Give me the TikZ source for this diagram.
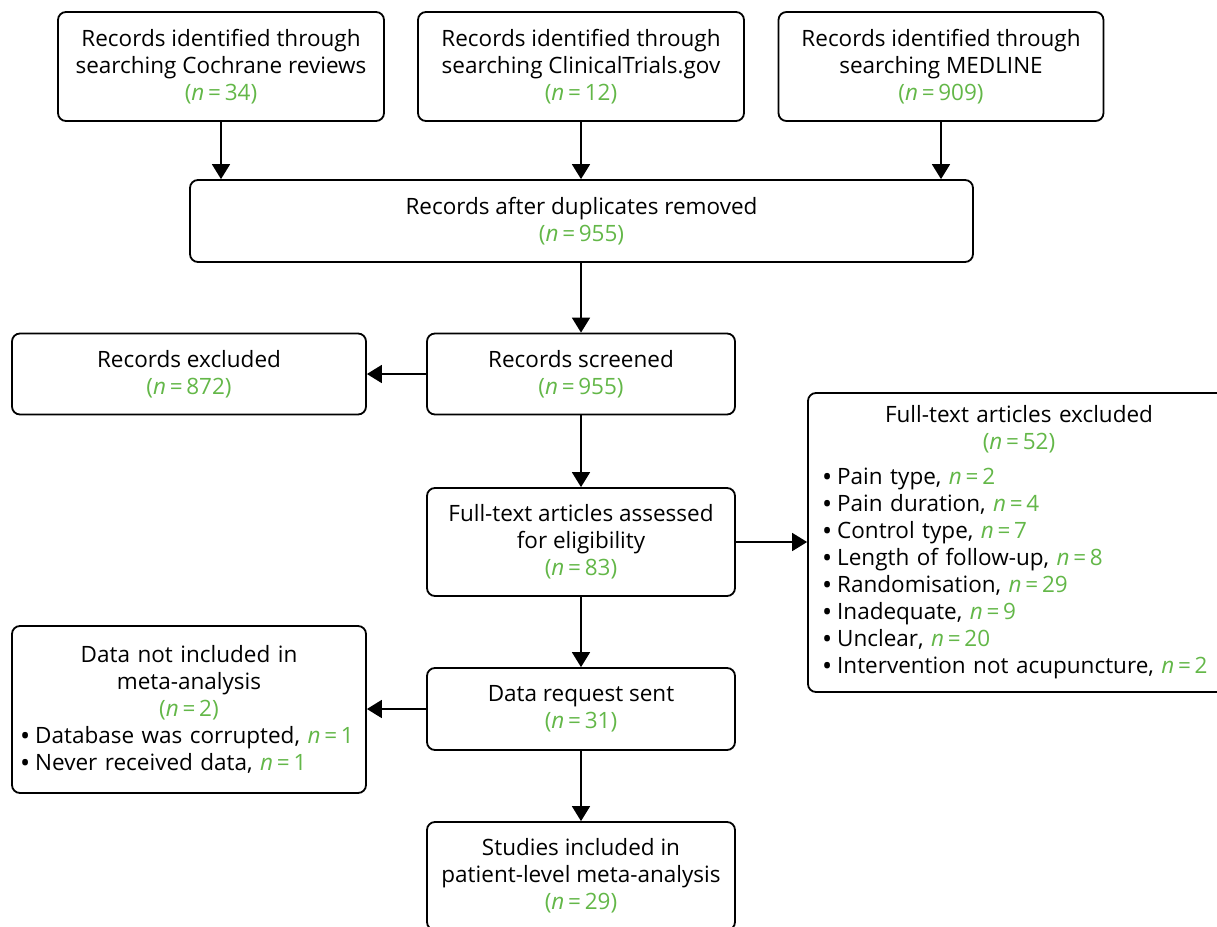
\documentclass[tikz,border=0pt]{standalone}
\usepackage{fontspec}
\setmainfont{Open Sans}
\usetikzlibrary{arrows.meta}
\definecolor{ngreen}{RGB}{99,183,72}
\newcommand{\nval}[1]{\textcolor{ngreen}{(\textit{n}\,=\,#1)}}
\newcommand{\nitem}[1]{\textcolor{ngreen}{\textit{n}\,=\,#1}}
\newcommand{\bul}{\raisebox{-1.6pt}{\fontsize{27}{27}\selectfont•}\hspace{5pt}}

\begin{document}
\begin{tikzpicture}[x=1pt,y=-1pt,
    box/.style={draw, line width=1.8pt, rounded corners=8pt, align=center,
        font=\fontsize{22.5}{27}\selectfont, inner sep=0pt},
    listbox/.style={box, align=left, inner xsep=12pt},
    arr/.style={line width=1.8pt, -{Triangle[length=15pt,width=18pt]}}]
\useasboundingbox (0,0) rectangle (1217,926);
% sources
\node[box, minimum width=326pt, minimum height=109pt] (cochrane) at (221,66.5)
    {Records identified through\\searching Cochrane reviews\\\nval{34}};
\node[box, minimum width=326pt, minimum height=109pt] (trials) at (581,66.5)
    {Records identified through\\searching ClinicalTrials.gov\\\nval{12}};
\node[box, minimum width=325pt, minimum height=109pt] (medline) at (941,66.5)
    {Records identified through\\searching MEDLINE\\\nval{909}};
\node[box, minimum width=783pt, minimum height=82pt] (dedup) at (581.5,221)
    {Records after duplicates removed\\\nval{955}};
% screening
\node[box, minimum width=308pt, minimum height=81pt] (screened) at (581,374)
    {Records screened\\\nval{955}};
\node[box, minimum width=354pt, minimum height=81pt] (recexcl) at (189,374)
    {Records excluded\\\nval{872}};
\node[box, minimum width=308pt, minimum height=108pt] (fulltext) at (581,542)
    {Full-text articles assessed\\for eligibility\\\nval{83}};
\node[listbox, inner xsep=14pt, text width=394pt, minimum height=299pt] (ftexcl) at (1019,542.5)
    {{\centering Full-text articles excluded\\\nval{52}\par}\vspace{8pt}%
    \bul Pain type, \nitem{2}\\
    \bul Pain duration, \nitem{4}\\
    \bul Control type, \nitem{7}\\
    \bul Length of follow-up, \nitem{8}\\
    \bul Randomisation, \nitem{29}\\
    \bul Inadequate, \nitem{9}\\
    \bul Unclear, \nitem{20}\\
    \bul Intervention not acupuncture, \nitem{2}};
% data
\node[box, minimum width=308pt, minimum height=82pt] (datareq) at (581,709)
    {Data request sent\\\nval{31}};
\node[listbox, inner xsep=8pt, text width=338pt, minimum height=167pt] (notincl) at (189,709.5)
    {{\centering Data not included in\\meta-analysis\\\nval{2}\par}%
    \bul Database was corrupted,~\nitem{1}\\
    \bul Never received data, \nitem{1}};
\node[box, minimum width=308pt, minimum height=108pt] (included) at (581,876)
    {Studies included in\\patient-level meta-analysis\\\nval{29}};
% arrows
\draw[arr] (cochrane) -- (cochrane |- dedup.north);
\draw[arr] (trials) -- (trials |- dedup.north);
\draw[arr] (medline) -- (medline |- dedup.north);
\draw[arr] (screened |- dedup.south) -- (screened);
\draw[arr] (screened) -- (recexcl);
\draw[arr] (screened) -- (fulltext);
\draw[arr] (fulltext.east) -- (fulltext.east -| ftexcl.west);
\draw[arr] (fulltext) -- (datareq);
\draw[arr] (datareq.west) -- (datareq.west -| notincl.east);
\draw[arr] (datareq) -- (included);
\end{tikzpicture}
\end{document}
